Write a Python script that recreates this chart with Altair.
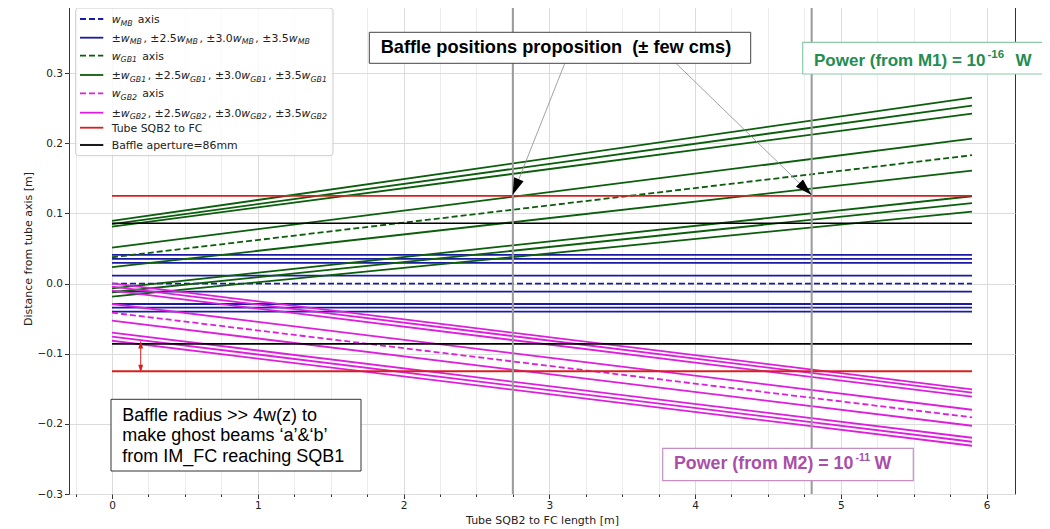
import math
import altair as alt
import pandas as pd

# ---------------- values ----------------
z_ends = [0.0, 5.9]                       # tube length range [m]

mb_axis = [0.0, 0.0]
mb_start = [0.0408, 0.0351, 0.0294, 0.0113, -0.0116, -0.0291, -0.0344, -0.0401]
mb_end = [0.0408, 0.0351, 0.0294, 0.0113, -0.0116, -0.0291, -0.0344, -0.0401]

gb1_axis = [0.0375, 0.1830]
gb1_start = [0.0894, 0.0847, 0.0813, 0.0512, 0.0233, -0.0067, -0.0124, -0.0187]
gb1_end = [0.2652, 0.2538, 0.2424, 0.2067, 0.1611, 0.1245, 0.1146, 0.1026]

gb2_axis = [-0.0415, -0.1907]
gb2_start = [0.0004, -0.0044, -0.0101, -0.0291, -0.0529, -0.0700, -0.0757, -0.0815]
gb2_end = [-0.1508, -0.1556, -0.1613, -0.1799, -0.2027, -0.2198, -0.2255, -0.2312]

tube_radius = [0.125, -0.125]
baffle_aperture = [0.086, -0.086]
baffle_positions = [2.75, 4.8]

x_tick_values = [k * 0.25 for k in range(-1, 25)]
y_tick_values = [-0.3, -0.2, -0.1, 0.0, 0.1, 0.2, 0.3, 0.4]

# ---------------- layout ----------------
X_DOMAIN = [-0.295, 6.195]
Y_DOMAIN = [-0.3, 0.4]
W, H = 946, 491
SX = W / (X_DOMAIN[1] - X_DOMAIN[0])
SY = H / (Y_DOMAIN[1] - Y_DOMAIN[0])

C_MB = "#1a1aa6"
C_GB1 = "#0b5e0b"
C_GB2 = "#dd1fdd"
C_RED = "#d62020"
C_BLK = "#000000"
DASH = [6, 3]
NB = "\u00a0"

x_axis = alt.Axis(
    values=x_tick_values,
    labelExpr="datum.value % 1 == 0 ? format(datum.value, 'd') : ''",
    tickSize={"condition": {"test": "datum.value % 1 == 0", "value": 4.5}, "value": 2.5},
    gridColor={"condition": {"test": "datum.value % 1 == 0", "value": "#dcdcdc"}, "value": "#ececec"},
    title="Tube SQB2 to FC length [m]",
    titlePadding=3,
    labelPadding=2,
)
y_axis = alt.Axis(
    values=y_tick_values,
    format=".1f",
    tickSize=4.5,
    gridColor="#dcdcdc",
    title="Distance from tube axis [m]",
    titlePadding=4,
    labelPadding=2,
)
X = alt.X("z:Q", scale=alt.Scale(domain=X_DOMAIN, nice=False, zero=False), axis=x_axis)
Y = alt.Y("d:Q", scale=alt.Scale(domain=Y_DOMAIN, nice=False, zero=False), axis=y_axis)


def pair_lines(starts, ends, prefix):
    rows = []
    for i, (a, b) in enumerate(zip(starts, ends)):
        rows.append({"id": f"{prefix}{i}", "z": z_ends[0], "d": a})
        rows.append({"id": f"{prefix}{i}", "z": z_ends[1], "d": b})
    return pd.DataFrame(rows)


def flat_lines(levels, prefix):
    return pair_lines(levels, levels, prefix)


def line_layer(df, color, dashed=False, width=1.8):
    kw = dict(color=color, strokeWidth=width, clip=True)
    if dashed:
        kw["strokeDash"] = DASH
    return alt.Chart(df).mark_line(**kw).encode(x=X, y=Y, detail="id:N")


layers = []
layers.append(line_layer(pair_lines([mb_axis[0]], [mb_axis[1]], "mba"), C_MB, dashed=True))
layers.append(line_layer(pair_lines(mb_start, mb_end, "mb"), C_MB))
layers.append(line_layer(pair_lines([gb1_axis[0]], [gb1_axis[1]], "g1a"), C_GB1, dashed=True))
layers.append(line_layer(pair_lines(gb1_start, gb1_end, "g1"), C_GB1))
layers.append(line_layer(pair_lines([gb2_axis[0]], [gb2_axis[1]], "g2a"), C_GB2, dashed=True))
layers.append(line_layer(pair_lines(gb2_start, gb2_end, "g2"), C_GB2))
layers.append(line_layer(flat_lines(tube_radius, "tube"), C_RED))
layers.append(line_layer(flat_lines(baffle_aperture, "baf"), C_BLK, width=1.6))

# baffle position vertical lines
layers.append(
    alt.Chart(pd.DataFrame({"z": baffle_positions}))
    .mark_rule(color="#9a9a9a", strokeWidth=2)
    .encode(x=X)
)

ARROW = "M0,0L-0.6,2L0.6,2Z"


def head_angle(z0, d0, z1, d1):
    dx = (z1 - z0) * SX
    dy = -(d1 - d0) * SY
    return math.degrees(math.atan2(dx, -dy)) % 360


# red double arrow between baffle aperture and tube
red_z = 0.197
red_top, red_bot = -0.081, -0.127
layers.append(
    alt.Chart(pd.DataFrame({"z": [red_z], "d": [red_top - 0.004], "z2": [red_z], "d2": [red_bot + 0.004]}))
    .mark_rule(color=C_RED, strokeWidth=1)
    .encode(x=X, y=Y, x2="z2:Q", y2="d2:Q")
)
layers.append(
    alt.Chart(pd.DataFrame({"z": [red_z, red_z], "d": [red_top, red_bot], "a": [0, 180]}))
    .mark_point(shape=ARROW, filled=True, color=C_RED, size=64, opacity=1, strokeWidth=0)
    .encode(x=X, y=Y, angle=alt.Angle("a:Q", scale=None))
)

# arrows from the "baffle positions" box
tails = [(3.107, 0.3143), (3.868, 0.3143)]
tips = [(2.748, 0.1262), (4.800, 0.1262)]
arr_rows = []
head_rows = []
for (tz, td), (pz, pd_) in zip(tails, tips):
    arr_rows.append({"z": tz, "d": td, "z2": pz, "d2": pd_})
    head_rows.append({"z": pz, "d": pd_, "a": head_angle(tz, td, pz, pd_)})
layers.append(
    alt.Chart(pd.DataFrame(arr_rows))
    .mark_rule(color="#8a8a8a", strokeWidth=0.8)
    .encode(x=X, y=Y, x2="z2:Q", y2="d2:Q")
)
layers.append(
    alt.Chart(pd.DataFrame(head_rows))
    .mark_point(shape=ARROW, filled=True, color="#000000", size=289, opacity=1, strokeWidth=0)
    .encode(x=X, y=Y, angle=alt.Angle("a:Q", scale=None))
)

one = pd.DataFrame({"k": [0]})


def box(x1, y1, x2, y2, stroke, fill="#ffffff", fill_opacity=1.0, radius=0, sw=1):
    return (
        alt.Chart(one)
        .mark_rect(fill=fill, fillOpacity=fill_opacity, stroke=stroke, strokeWidth=sw, cornerRadius=radius)
        .encode(x=alt.value(x1), x2=alt.value(x2), y=alt.value(y1), y2=alt.value(y2))
    )


def label(x, y, text, size, color="#000000", weight="normal", font="Liberation Sans"):
    return (
        alt.Chart(one)
        .mark_text(text=text, align="left", baseline="alphabetic", font=font, fontSize=size,
                   fontWeight=weight, color=color)
        .encode(x=alt.value(x), y=alt.value(y))
    )


# "Baffle positions" box
layers.append(box(300.3, 29.3, 681.7, 60.3, "#444444"))
layers.append(label(311.7, 50.3, "Baffle positions proposition " + NB + "(± few cms)", 18.2, weight="bold"))

# Power M1 box
C_P1 = "#238c50"
layers.append(box(733.7, 39.3, 1000, 71, "#8cc9a8", sw=1.2))
p1_size = 17
layers.append(label(745, 63, "Power (from M1) = 10", p1_size, color=C_P1, weight="bold"))
p1_end = 745 + 10.086 * p1_size
layers.append(label(p1_end + 2, 54.5, "-16", 11.5, color=C_P1, weight="bold"))
layers.append(label(p1_end + 30, 63, "W", p1_size, color=C_P1, weight="bold"))

# Power M2 box
C_P2 = "#a94fa9"
layers.append(box(593.7, 445.3, 844.3, 477.7, "#c490c4", sw=1.2))
p2_size = 17.8
layers.append(label(605, 466.3, "Power (from M2) = 10", p2_size, color=C_P2, weight="bold"))
p2_end = 605 + 10.086 * p2_size
layers.append(label(p2_end + 2, 457.5, "-11", 10.5, color=C_P2, weight="bold"))
layers.append(label(p2_end + 21, 466.3, "W", p2_size, color=C_P2, weight="bold"))

# Baffle radius note
layers.append(box(42, 396.3, 292, 468, "#333333"))
note_lines = ["Baffle radius >> 4w(z) to", "make ghost beams \u2018a\u2019&\u2018b\u2019", "from IM_FC reaching SQB1"]
for i, t in enumerate(note_lines):
    layers.append(label(53.3, 417.7 + 20.5 * i, t, 18))

# ---------------- hand-built legend ----------------
DV = {
    " ": 0.318, "±": 0.838, ",": 0.318, ".": 0.318, "w": 0.818, "a": 0.613, "x": 0.592,
    "i": 0.278, "s": 0.521, "M": 0.863, "B": 0.686, "G": 0.774, "T": 0.611, "u": 0.634, "b": 0.635,
    "e": 0.615, "S": 0.635, "Q": 0.787, "t": 0.392, "o": 0.612, "F": 0.575, "C": 0.698, "f": 0.352,
    "l": 0.278, "p": 0.635, "r": 0.411, "m": 0.974, "=": 0.838,
}
for dch in "0123456789":
    DV[dch] = 0.636

LEG_FS = 10.9
SUB_FS = LEG_FS * 0.72
SUB_GAP = 1.5
WORD_GAP = 3.6


def combo(sub):
    segs = [("±", "rm"), ("w", "it"), (sub, "sub")]
    for k in ["2.5", "3.0", "3.5"]:
        segs += [(", ±" + k, "rm"), ("w", "it"), (sub, "sub")]
    return segs


legend_rows = [
    ([("w", "it"), ("MB", "sub"), ("axis", "gap")], C_MB, True),
    (combo("MB"), C_MB, False),
    ([("w", "it"), ("GB1", "sub"), ("axis", "gap")], C_GB1, True),
    (combo("GB1"), C_GB1, False),
    ([("w", "it"), ("GB2", "sub"), ("axis", "gap")], C_GB2, True),
    (combo("GB2"), C_GB2, False),
    ([("Tube SQB2 to FC", "rm")], C_RED, False),
    ([("Baffle aperture=86mm", "rm")], C_BLK, False),
]
row_y = [16, 34.7, 52.7, 72, 90.3, 109.7, 124.7, 142]

layers.append(box(6.7, 5, 264, 152.7, "#cccccc", fill_opacity=0.8, radius=3))

seg_rows = []
sample_rows = []
for (segs, color, dashed), ry in zip(legend_rows, row_y):
    sample_rows.append({"x1": 11, "x2": 34.3, "y": ry, "c": color, "dash": dashed})
    cx = 42.7
    for txt, kind in segs:
        if kind == "gap":
            cx += WORD_GAP
            kind = "rm"
        fs = SUB_FS if kind == "sub" else LEG_FS
        dy = 2.6 if kind == "sub" else 0.0
        seg_rows.append({"px": cx, "py": ry + 4 + dy, "t": txt, "kind": kind})
        cx += sum(DV.get(ch, 0.6) for ch in txt) * fs + (SUB_GAP if kind == "sub" else 0.0)

samples = pd.DataFrame(sample_rows)
segdf = pd.DataFrame(seg_rows)

PX = alt.X("x1:Q", scale=None, axis=None)
for dashed in [True, False]:
    sub = samples[samples["dash"] == dashed]
    kw = dict(strokeWidth=1.8)
    if dashed:
        kw["strokeDash"] = DASH
    layers.append(
        alt.Chart(sub).mark_rule(**kw).encode(
            x=PX, x2="x2:Q", y=alt.Y("y:Q", scale=None, axis=None), color=alt.Color("c:N", scale=None)
        )
    )

styles = {"rm": ("normal", LEG_FS), "it": ("italic", LEG_FS), "sub": ("italic", SUB_FS)}
for kind, (fstyle, fs) in styles.items():
    sub = segdf[segdf["kind"] == kind]
    layers.append(
        alt.Chart(sub)
        .mark_text(align="left", baseline="alphabetic", font="DejaVu Sans", fontSize=fs,
                   fontStyle=fstyle, color="#222222")
        .encode(x=alt.X("px:Q", scale=None, axis=None), y=alt.Y("py:Q", scale=None, axis=None), text="t:N")
    )

chart = (
    alt.layer(*layers)
    .properties(
        width=W,
        height=H,
        padding={"left": 61, "top": -5, "right": 27, "bottom": 35},
        autosize=alt.AutoSizeParams(type="none"),
        background="#ffffff",
    )
    .configure_view(stroke="#333333", strokeWidth=1)
    .configure_axis(
        domain=False,
        tickColor="#333333",
        tickWidth=1,
        labelFont="DejaVu Sans",
        labelFontSize=10.5,
        labelColor="#222222",
        titleFont="DejaVu Sans",
        titleFontSize=11,
        titleFontWeight="normal",
        titleColor="#222222",
        gridWidth=1,
    )
)

chart.save("out.html", embed_options={"renderer": "svg", "actions": False})
